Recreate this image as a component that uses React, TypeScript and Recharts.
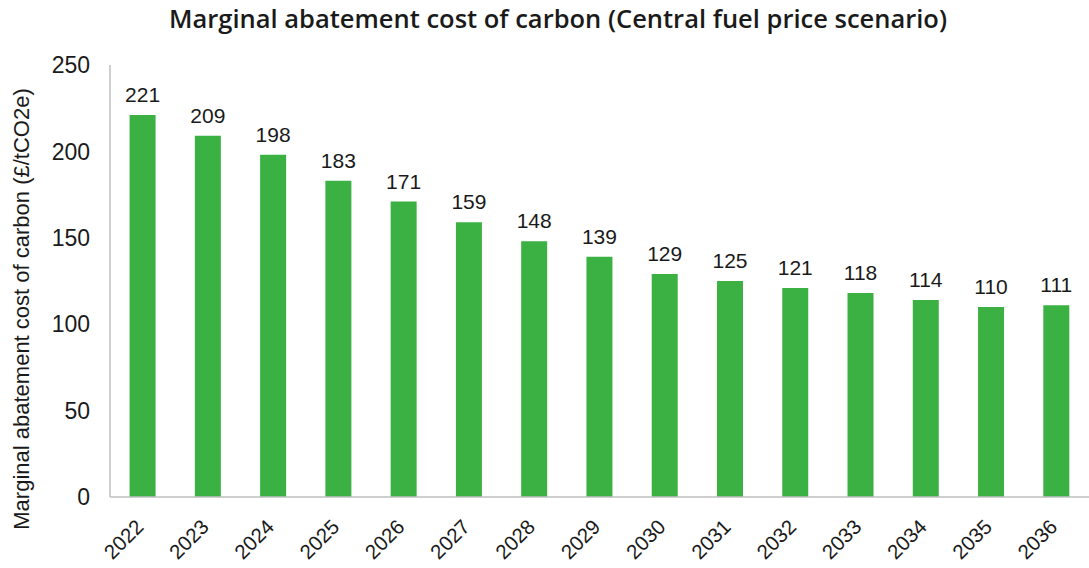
import React from "react";
import { BarChart, Bar, XAxis, YAxis, LabelList } from "recharts";

const years = ["2022", "2023", "2024", "2025", "2026", "2027", "2028", "2029", "2030", "2031", "2032", "2033", "2034", "2035", "2036"];
const costs = [221, 209, 198, 183, 171, 159, 148, 139, 129, 125, 121, 118, 114, 110, 111];
const yTicks = [0, 50, 100, 150, 200, 250];

const title = "Marginal abatement cost of carbon (Central fuel price scenario)";
const yLabel = "Marginal abatement cost of carbon (£/tCO2e)";

const data = years.map((y, i) => ({ year: y, value: costs[i] }));

const FONT = "'Liberation Sans', Arial, sans-serif";

const XTick = (props: any) => {
  const { x, y, payload } = props;
  const ax = x - 8;
  const ay = y + 7;
  return (
    <text
      x={ax}
      y={ay}
      dy="0.7em"
      textAnchor="end"
      transform={`rotate(-45, ${ax}, ${ay})`}
      fontSize={20.5}
      fontFamily={FONT}
      fill="#1a1a1a"
    >
      {payload.value}
    </text>
  );
};

const YLabel = (props: any) => {
  const { viewBox } = props;
  const cx = 21;
  const cy = viewBox.y + viewBox.height / 2 + 28;
  return (
    <text
      x={cx}
      y={cy}
      textAnchor="middle"
      dominantBaseline="central"
      transform={`rotate(-90, ${cx}, ${cy})`}
      fontSize={22}
      fontFamily={FONT}
      fill="#1a1a1a"
    >
      {yLabel}
    </text>
  );
};

export default function App() {
  return (
    <div style={{ position: "absolute", left: 0, top: 0, width: 1089, height: 568, background: "#fff" }}>
      <div
        style={{
          position: "absolute",
          left: 0,
          top: 1,
          width: 1116,
          textAlign: "center",
          fontFamily: "'Open Sans', sans-serif",
          fontWeight: 600,
          fontSize: 25.5,
          color: "#1a1a1a",
          whiteSpace: "nowrap",
        }}
      >
        {title}
      </div>
      <BarChart
        width={1089}
        height={568}
        data={data}
        margin={{ top: 65, right: 0, bottom: 6, left: 0 }}
        barCategoryGap="30%"
      >
        <XAxis
          dataKey="year"
          axisLine={{ stroke: "#bfbfbf", strokeWidth: 1.5 }}
          tickLine={false}
          tickSize={0}
          tickMargin={14}
          height={65}
          interval={0}
          tick={<XTick />}
        />
        <YAxis
          domain={[0, 250]}
          ticks={yTicks}
          width={110}
          axisLine={{ stroke: "#bfbfbf", strokeWidth: 1.5 }}
          tickLine={false}
          tickSize={0}
          tickMargin={20}
          tick={{ fontSize: 23, fontFamily: FONT, fill: "#1a1a1a" }}
          label={{ content: <YLabel /> }}
        />
        <Bar dataKey="value" fill="#3bb143" isAnimationActive={false}>
          <LabelList dataKey="value" position="top" offset={13} fontSize={21} fontFamily={FONT} fill="#1a1a1a" />
        </Bar>
      </BarChart>
    </div>
  );
}
